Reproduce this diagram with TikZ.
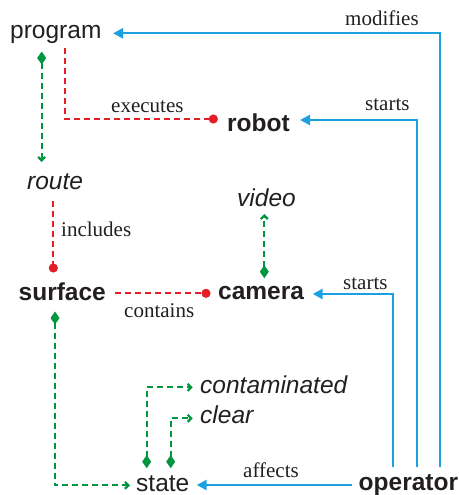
\documentclass[tikz,border=0pt]{standalone}
\usepackage{fontspec}
\setmainfont{Liberation Serif}
\setsansfont{Liberation Sans}
\usetikzlibrary{arrows.meta}
\definecolor{cblue}{RGB}{27,161,226}
\definecolor{cred}{RGB}{228,30,38}
\definecolor{cgreen}{RGB}{0,150,64}
\definecolor{ctext}{RGB}{35,31,32}
\begin{document}
\begin{tikzpicture}[x=1pt,y=-1pt,
  ent/.style={anchor=base west,inner sep=0pt,font=\fontsize{24.5}{28}\selectfont\sffamily,text=ctext},
  lbl/.style={anchor=base west,inner sep=0pt,font=\fontsize{21}{24}\selectfont\rmfamily,text=ctext},
  bluearrow/.style={draw=cblue,line width=2.4pt,-{Triangle[length=10pt,width=10pt]}},
  reddash/.style={draw=cred,line width=2.2pt,dash pattern=on 6pt off 4pt,-{Circle[length=9pt]}},
  greendash/.style={draw=cgreen,line width=2.2pt,dash pattern=on 6pt off 4pt,
    {Diamond[length=13pt,width=9pt]}-{Straight Barb[length=3.5pt,width=7pt]}}]
\useasboundingbox (0,0) rectangle (458,495);
% entities
\node[ent] (program) at (10,38) {program};
\node[ent,font=\fontsize{24.5}{28}\selectfont\sffamily\bfseries] (robot) at (227,131) {robot};
\node[ent,font=\fontsize{24.5}{28}\selectfont\sffamily\itshape] (route) at (27,189) {route};
\node[ent,font=\fontsize{24.5}{28}\selectfont\sffamily\itshape] (video) at (237,206) {video};
\node[ent,font=\fontsize{24.5}{28}\selectfont\sffamily\bfseries] (surface) at (18.5,300) {surface};
\node[ent,font=\fontsize{24.5}{28}\selectfont\sffamily\bfseries] (camera) at (218,299.5) {camera};
\node[ent,font=\fontsize{24.5}{28}\selectfont\sffamily\itshape] (contaminated) at (200,393) {contaminated};
\node[ent,font=\fontsize{24.5}{28}\selectfont\sffamily\itshape] (clear) at (200,423) {clear};
\node[ent] (state) at (136,491) {state};
\node[ent,font=\fontsize{24.5}{28}\selectfont\sffamily\bfseries] (operator) at (358.5,490) {operator};
% labels
\node[lbl] (lmod) at (345,26) {modifies};
\node[lbl] (lstarts1) at (365,110) {starts};
\node[lbl] (lexec) at (111,112.7) {executes};
\node[lbl] (lincl) at (61,236) {includes};
\node[lbl] (lcont) at (124,317) {contains};
\node[lbl] (lstarts2) at (343,289) {starts};
\node[lbl] (laff) at (243,477) {affects};
% connector points
\coordinate (opA) at (440,467);
\coordinate (opB) at (416.7,467);
\coordinate (opC) at (393,467);
\coordinate (opD) at (352,485);
\coordinate (progIn) at (113,33.3);
\coordinate (robotIn) at (300,120);
\coordinate (camIn) at (312.7,294);
\coordinate (stateIn) at (196.7,485);
\coordinate (progOut) at (65,48);
\coordinate (robotDot) at (217.8,119);
\coordinate (routeOut) at (53.3,200.7);
\coordinate (surfDot) at (53.3,272.5);
\coordinate (surfOut) at (115,293.3);
\coordinate (camDot) at (210.5,293.3);
\coordinate (progG) at (41.7,51.5);
\coordinate (routeG) at (41.7,162);
\coordinate (camG) at (264.3,278.2);
\coordinate (videoG) at (264.3,214);
\coordinate (surfG) at (55,311.5);
\coordinate (stateG) at (130,485.3);
\coordinate (stateG1) at (146.7,468.2);
\coordinate (stateG2) at (170.7,468.2);
\coordinate (contG) at (192.7,387.3);
\coordinate (clearG) at (192.7,418.3);
% blue
\draw[bluearrow] (opA) |- (progIn);
\draw[bluearrow] (opB) |- (robotIn);
\draw[bluearrow] (opC) |- (camIn);
\draw[bluearrow] (opD) -- (stateIn);
% red
\draw[reddash] (progOut) |- (robotDot);
\draw[reddash] (routeOut) -- (surfDot);
\draw[reddash] (surfOut) -- (camDot);
% green
\draw[greendash] (progG) -- (routeG);
\draw[greendash] (camG) -- (videoG);
\draw[greendash] (surfG) |- (stateG);
\draw[greendash] (stateG1) |- (contG);
\draw[greendash] (stateG2) |- (clearG);
\end{tikzpicture}
\end{document}
